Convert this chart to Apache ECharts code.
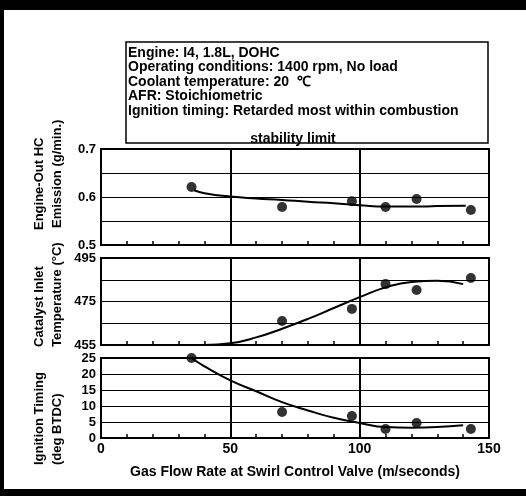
<!DOCTYPE html>
<html>
<head>
<meta charset="utf-8">
<script src="https://cdn.jsdelivr.net/npm/echarts@6/dist/echarts.min.js"></script>
<style>
html,body{margin:0;padding:0;background:#fff;}
#c{width:526px;height:496px;}
</style>
</head>
<body>
<div id="c"></div>
<script>
// ---- data ----
var xTicks = [0, 50, 100, 150];
var hcX = [35, 70, 97, 110, 122, 143];
var hcVals = [0.621, 0.579, 0.591, 0.579, 0.596, 0.573];
var hcCurveX = [36, 40, 50, 60, 70, 80, 90, 100, 110, 120, 130, 141];
var hcCurve = [0.614, 0.608, 0.601, 0.597, 0.594, 0.590, 0.587, 0.583, 0.580, 0.580, 0.581, 0.582];

var tempX = [70, 97, 110, 122, 143];
var tempVals = [466, 471.6, 483, 480.3, 485.8];
var tempCurveX = [40, 50, 60, 70, 80, 90, 100, 110, 120, 130, 140];
var tempCurve = [455, 455.8, 458.5, 462.5, 467, 472, 477, 481.5, 484, 484.5, 483];

var igX = [35, 70, 97, 110, 122, 143];
var igVals = [25, 8.1, 6.9, 2.8, 4.7, 2.8];
var igCurveX = [35, 40, 50, 60, 70, 80, 90, 100, 110, 120, 130, 140];
var igCurve = [25, 22.4, 18, 14.6, 11.2, 8.6, 6.3, 4.7, 3.4, 3.2, 3.4, 4.0];

var hcTickLabels = [0.5, 0.6, 0.7];
var tempTickLabels = [455, 475, 495];
var igTickLabels = [0, 5, 10, 15, 20, 25];

var noteLines = [
  'Engine: I4, 1.8L, DOHC',
  'Operating conditions: 1400 rpm, No load',
  'Coolant temperature: 20  \u2103',
  'AFR: Stoichiometric',
  'Ignition timing: Retarded most within combustion'
];
var noteLast = 'stability limit';
var xName = 'Gas Flow Rate at Swirl Control Valve (m/seconds)';

function zip(a, b) { return a.map(function (v, i) { return [v, b[i]]; }); }

var FONT = '"Liberation Sans", Arial, sans-serif';
var chart = echarts.init(document.getElementById('c'), null, {renderer: 'canvas'});

function xAxisCfg(idx, showLabels) {
  return {
    type: 'value', gridIndex: idx, min: 0, max: 150, interval: 50,
    axisLine: {show: true, onZero: false, lineStyle: {color: '#000', width: 2}},
    axisTick: {show: true, inside: true, length: 4, lineStyle: {color: '#000', width: 1.5}},
    minorTick: {show: true, splitNumber: 5, length: 4, lineStyle: {color: '#000', width: 1.5}},
    splitLine: {show: true, lineStyle: {color: '#000', width: 2}},
    axisLabel: {show: showLabels, color: '#000', fontFamily: FONT, fontWeight: 'bold', fontSize: 14, margin: 4,
      formatter: function (v) { return xTicks.indexOf(v) >= 0 ? String(v) : ''; }},
    name: showLabels ? xName : '', nameLocation: 'middle', nameGap: 27,
    nameTextStyle: {color: '#000', fontFamily: FONT, fontWeight: 'bold', fontSize: 14}
  };
}
function yAxisCfg(idx, min, max, interval, labels) {
  return {
    type: 'value', gridIndex: idx, min: min, max: max, interval: interval,
    axisLine: {show: true, lineStyle: {color: '#000', width: 2}},
    axisTick: {show: false},
    splitLine: {show: true, lineStyle: {color: '#000', width: 1.2}},
    axisLabel: {color: '#000', fontFamily: FONT, fontWeight: 'bold', fontSize: 13, margin: 5,
      formatter: function (v) {
        for (var i = 0; i < labels.length; i++) { if (Math.abs(labels[i] - v) < 1e-6) return String(labels[i]); }
        return '';
      }}
  };
}

var dotStyle = {color: '#000'};
var lineStyle = {color: '#000', width: 2};

var graphics = [
  {type: 'rect', shape: {x: 0, y: 0, width: 526, height: 10}, style: {fill: '#000'}, z: 100},
  {type: 'rect', shape: {x: 0, y: 0, width: 4, height: 496}, style: {fill: '#000'}, z: 100},
  {type: 'rect', shape: {x: 0, y: 489, width: 526, height: 7}, style: {fill: '#000'}, z: 100},
  {type: 'rect', shape: {x: 126, y: 42, width: 362, height: 101}, style: {fill: '#fff', stroke: '#000', lineWidth: 1.5}, z: 10}
];
noteLines.forEach(function (t, i) {
  graphics.push({type: 'text', x: 128, y: 53 + i * 14.5, z: 11,
    style: {text: t, fill: '#000', font: 'bold 14px ' + FONT, textVerticalAlign: 'middle'}});
});
graphics.push({type: 'text', x: 293, y: 139, z: 11,
  style: {text: noteLast, fill: '#000', font: 'bold 14px ' + FONT, textAlign: 'center', textVerticalAlign: 'middle'}});

var yTitles = [
  {t: 'Engine-Out HC', x: 39, y: 230},
  {t: 'Emission (g/min.)', x: 57, y: 228},
  {t: 'Catalyst Inlet', x: 39, y: 347},
  {t: 'Temperature (\u00B0C)', x: 57, y: 347},
  {t: 'Ignition Timing', x: 39, y: 465},
  {t: '(deg BTDC)', x: 57, y: 465}
];
yTitles.forEach(function (o) {
  graphics.push({type: 'text', x: o.x, y: o.y, rotation: Math.PI / 2, z: 11,
    style: {text: o.t, fill: '#000', font: 'bold 13px ' + FONT, textAlign: 'left', textVerticalAlign: 'middle'}});
});

var option = {
  backgroundColor: '#fff',
  animation: false,
  grid: [
    {left: 101, right: 37, top: 149, height: 96, show: true, borderColor: '#000', borderWidth: 2, backgroundColor: 'transparent'},
    {left: 101, right: 37, top: 258, height: 87, show: true, borderColor: '#000', borderWidth: 2, backgroundColor: 'transparent'},
    {left: 101, right: 37, top: 358, height: 80, show: true, borderColor: '#000', borderWidth: 2, backgroundColor: 'transparent'}
  ],
  xAxis: [xAxisCfg(0, false), xAxisCfg(1, false), xAxisCfg(2, true)],
  yAxis: [
    yAxisCfg(0, 0.5, 0.7, 0.05, hcTickLabels),
    yAxisCfg(1, 455, 495, 10, tempTickLabels),
    yAxisCfg(2, 0, 25, 5, igTickLabels)
  ],
  series: [
    {type: 'line', xAxisIndex: 0, yAxisIndex: 0, data: zip(hcCurveX, hcCurve), smooth: true, showSymbol: false, lineStyle: lineStyle, z: 5},
    {type: 'scatter', xAxisIndex: 0, yAxisIndex: 0, data: zip(hcX, hcVals), symbolSize: 10, itemStyle: dotStyle, z: 6, clip: false},
    {type: 'line', xAxisIndex: 1, yAxisIndex: 1, data: zip(tempCurveX, tempCurve), smooth: true, showSymbol: false, lineStyle: lineStyle, z: 5},
    {type: 'scatter', xAxisIndex: 1, yAxisIndex: 1, data: zip(tempX, tempVals), symbolSize: 10, itemStyle: dotStyle, z: 6, clip: false},
    {type: 'line', xAxisIndex: 2, yAxisIndex: 2, data: zip(igCurveX, igCurve), smooth: true, showSymbol: false, lineStyle: lineStyle, z: 5},
    {type: 'scatter', xAxisIndex: 2, yAxisIndex: 2, data: zip(igX, igVals), symbolSize: 10, itemStyle: dotStyle, z: 6, clip: false}
  ],
  graphic: graphics
};
chart.setOption(option);
</script>
</body>
</html>
